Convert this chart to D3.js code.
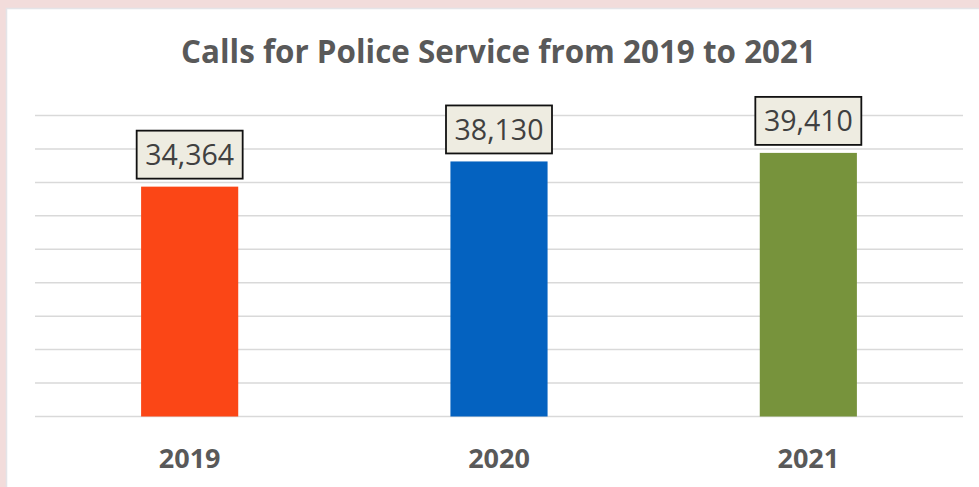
<!DOCTYPE html>
<html><head><meta charset="utf-8">
<script src="https://cdn.jsdelivr.net/npm/d3@7"></script>
<style>
html,body{margin:0;padding:0;background:#f2dcdb;}
svg{display:block;}
</style></head>
<body>
<svg id="chart" width="979" height="487"></svg>
<script>
const title = "Calls for Police Service from 2019 to 2021";
const categories = ["2019", "2020", "2021"];
const values = [34364, 38130, 39410];
const colors = ["#fb4616", "#0462c0", "#77933c"];
const yTicks = [0, 5000, 10000, 15000, 20000, 25000, 30000, 35000, 40000, 45000];

(function () {
const svg = d3.select("#chart");
// white panel
svg.append("rect").attr("x", 6.5).attr("y", 8.5).attr("width", 990).attr("height", 500)
  .attr("fill", "#fff").attr("stroke", "#e4e4e8").attr("stroke-width", 1.5);

const mLeft = 35, mRight = 963, mTop = 115.5, mBottom = 416.5;
const x = d3.scaleBand().domain(categories).range([mLeft, mRight]).paddingInner(0.686).paddingOuter(0.343);
const y = d3.scaleLinear().domain([0, 45000]).range([mBottom, mTop]);

// gridlines
svg.append("g").selectAll("line").data(yTicks).join("line")
  .attr("x1", mLeft).attr("x2", mRight)
  .attr("y1", d => y(d)).attr("y2", d => y(d))
  .attr("stroke", "#d9d9d9").attr("stroke-width", 1.5);

// bars
svg.append("g").selectAll("rect").data(values).join("rect")
  .attr("x", (d, i) => x(categories[i]))
  .attr("width", x.bandwidth())
  .attr("y", d => y(d))
  .attr("height", d => y(0) - y(d))
  .attr("fill", (d, i) => colors[i]);

// x axis labels
const xAxis = d3.axisBottom(x).tickSize(0).tickPadding(0);
const gx = svg.append("g").attr("transform", `translate(0,${mBottom})`).call(xAxis);
gx.select(".domain").remove();
gx.selectAll("text").attr("font-family", "'Open Sans', sans-serif").attr("font-weight", "bold")
  .attr("font-size", 27).attr("fill", "#595959").attr("dy", null).attr("y", 51.5);

// value labels with boxes
const fmt = d3.format(",");
const lab = svg.append("g").selectAll("g").data(values).join("g")
  .attr("transform", (d, i) => `translate(${x(categories[i]) + x.bandwidth() / 2},${y(d) - 8})`);
lab.append("rect").attr("x", -53).attr("y", -48).attr("width", 106).attr("height", 48)
  .attr("fill", "#eeece1").attr("stroke", "#111").attr("stroke-width", 1.8);
lab.append("text").attr("text-anchor", "middle").attr("y", -13.5)
  .attr("font-family", "'Open Sans', sans-serif").attr("font-size", 28.5)
  .attr("fill", "#404040").text(d => fmt(d));

// title
const t = svg.append("text").attr("x", 498.5).attr("y", 63).attr("text-anchor", "middle")
  .attr("font-family", "'Open Sans', sans-serif").attr("font-weight", "bold")
  .attr("font-size", 30).attr("fill", "#595959").text(title);
const w = t.node().getComputedTextLength();
t.attr("font-size", 30 * 635 / w);
})();
</script>
</body></html>
